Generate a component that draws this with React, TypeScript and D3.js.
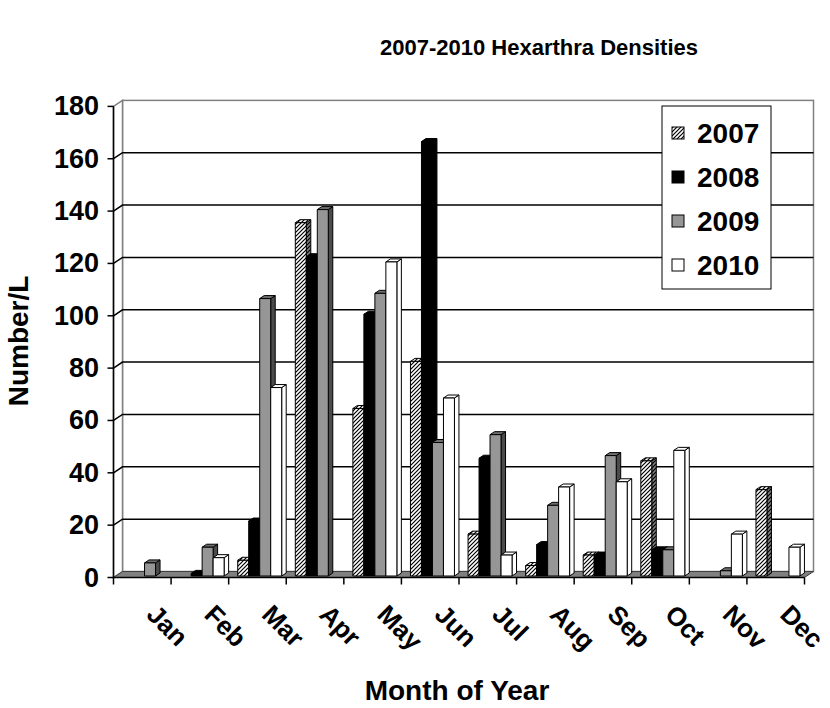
import React from "react";
import * as d3 from "d3";

const months = ["Jan", "Feb", "Mar", "Apr", "May", "Jun", "Jul", "Aug", "Sep", "Oct", "Nov", "Dec"];
const years = ["2007", "2008", "2009", "2010"];
const v2007 = [0, 0, 6, 135, 64, 82, 16, 4, 8, 44, 0, 33];
const v2008 = [0, 1, 21, 122, 100, 166, 45, 12, 8, 10, 0, 0];
const v2009 = [5, 11, 106, 140, 108, 51, 54, 27, 46, 10, 2, 0];
const v2010 = [0, 7, 72, 0, 120, 68, 8, 34, 36, 48, 16, 11];
const yTicks = [0, 20, 40, 60, 80, 100, 120, 140, 160, 180];
const seriesValues = [v2007, v2008, v2009, v2010];

const W = 830;
const H = 708;
const FONT = "Arial, 'Liberation Sans', Helvetica, sans-serif";

// oblique depth of the plot box
const DX = 9;
const DY = 6;

type Style = { front: string; side: string; top: string };
const styles: Style[] = [
  { front: "url(#hatch)", side: "url(#hatchDark)", top: "url(#hatch)" },
  { front: "#000000", side: "#000000", top: "#000000" },
  { front: "#969696", side: "#4b4b4b", top: "#6e6e6e" },
  { front: "#ffffff", side: "#ffffff", top: "#ffffff" },
];

export default function App() {
  const x0 = d3.scaleBand<string>().domain(months).range([113.5, 804.5]).padding(0);
  const step = x0.bandwidth();
  const x1 = d3.scaleBand<string>().domain(years).range([6.8, step - 6.8]).padding(0);
  const bw = x1.bandwidth();
  const y = d3.scaleLinear().domain([0, 180]).range([577.5, 106.4]);

  const left = x0.range()[0];
  const right = x0.range()[1];
  const y0 = y(0);
  const yTop = y(180);

  // bar depth: front face at 1/4 of box depth, back face at 3/4
  const fdx = DX * 0.25, fdy = DY * 0.25;
  const bdx = DX * 0.75, bdy = DY * 0.75;
  const ddx = bdx - fdx, ddy = bdy - fdy;

  const bars: React.ReactNode[] = [];
  months.forEach((m, mi) => {
    years.forEach((yr, si) => {
      const v = seriesValues[si][mi];
      if (!v) return;
      const bx = (x0(m) as number) + (x1(yr) as number) + fdx;
      const by = y(v) - fdy;
      const bb = y0 - fdy;
      const st = styles[si];
      const sidePts = `${bx + bw},${bb} ${bx + bw + ddx},${bb - ddy} ${bx + bw + ddx},${by - ddy} ${bx + bw},${by}`;
      const topPts = `${bx},${by} ${bx + ddx},${by - ddy} ${bx + bw + ddx},${by - ddy} ${bx + bw},${by}`;
      bars.push(
        <g key={`${m}-${yr}`} stroke="#000" strokeWidth={1} strokeLinejoin="round">
          <polygon points={sidePts} fill={st.side} />
          <polygon points={topPts} fill={st.top} />
          <rect x={bx} y={by} width={bw} height={bb - by} fill={st.front} />
        </g>
      );
    });
  });

  return (
    <svg
      width={W}
      height={H}
      style={{ position: "absolute", left: 0, top: 0, background: "#fff" }}
      fontFamily={FONT}
    >
      <defs>
        <pattern id="hatch" patternUnits="userSpaceOnUse" width={4} height={4}>
          <rect width={4} height={4} fill="#fff" />
          <path d="M-1,1 l2,-2 M0,4 l4,-4 M3,5 l2,-2" stroke="#000" strokeWidth={1.2} />
        </pattern>
        <pattern id="hatchDark" patternUnits="userSpaceOnUse" width={4} height={4}>
          <rect width={4} height={4} fill="#808080" />
          <path d="M-1,1 l2,-2 M0,4 l4,-4 M3,5 l2,-2" stroke="#000" strokeWidth={1.2} />
        </pattern>
      </defs>

      <rect x={0} y={0} width={W} height={H} fill="#fff" />

      {/* title */}
      <text x={539} y={55} textAnchor="middle" fontSize={22} fontWeight="bold">
        2007-2010 Hexarthra Densities
      </text>

      {/* back wall */}
      <rect x={left + DX} y={yTop - DY} width={right - left} height={y0 - yTop} fill="#fff" stroke="#808080" strokeWidth={1.5} />
      {/* side wall */}
      <polygon
        points={`${left},${y0} ${left + DX},${y0 - DY} ${left + DX},${yTop - DY} ${left},${yTop}`}
        fill="#fff"
        stroke="#808080"
        strokeWidth={1.5}
      />

      {/* gridlines */}
      {yTicks.filter((t) => t > 0 && t < 180).map((t) => (
        <polyline
          key={t}
          points={`${left},${y(t)} ${left + DX},${y(t) - DY} ${right + DX},${y(t) - DY}`}
          fill="none"
          stroke="#000"
          strokeWidth={1.5}
        />
      ))}

      {/* floor */}
      <polygon
        points={`${left},${y0} ${right},${y0} ${right + DX},${y0 - DY} ${left + DX},${y0 - DY}`}
        fill="#808080"
        stroke="#404040"
        strokeWidth={1}
      />

      {bars}

      {/* value axis */}
      <line x1={left} x2={left} y1={y0} y2={yTop} stroke="#000" strokeWidth={1.5} />
      {yTicks.map((t) => (
        <g key={t}>
          <line x1={left - 6} x2={left} y1={y(t)} y2={y(t)} stroke="#000" strokeWidth={1.5} />
          <text x={99} y={y(t)} textAnchor="end" dominantBaseline="central" fontSize={27} fontWeight="bold">
            {t}
          </text>
        </g>
      ))}

      {/* category axis */}
      <line x1={left} x2={right} y1={y0} y2={y0} stroke="#000" strokeWidth={1.5} />
      {d3.range(months.length + 1).map((i) => {
        const tx = left + i * step;
        return <line key={i} x1={tx} x2={tx} y1={y0} y2={y0 + 7} stroke="#000" strokeWidth={1.5} />;
      })}
      {months.map((m) => {
        const cx = (x0(m) as number) + step / 2 + 3;
        const cy = 616;
        return (
          <text key={m} x={cx} y={cy} transform={`rotate(45 ${cx} ${cy})`} fontSize={26} fontWeight="bold">
            {m}
          </text>
        );
      })}

      {/* axis titles */}
      <text
        x={28}
        y={341}
        transform="rotate(-90 28 341)"
        textAnchor="middle"
        fontSize={28}
        fontWeight="bold"
      >
        Number/L
      </text>
      <text x={457} y={700} textAnchor="middle" fontSize={28} fontWeight="bold">
        Month of Year
      </text>

      {/* legend */}
      <rect x={662} y={106} width={109} height={183} fill="#fff" stroke="#000" strokeWidth={1} />
      {years.map((yr, i) => {
        const cy = 133 + i * 44;
        return (
          <g key={yr}>
            <rect x={672} y={cy - 6} width={12} height={12} fill={styles[i].front} stroke="#000" strokeWidth={1} />
            <text x={697} y={cy} dominantBaseline="central" fontSize={28} fontWeight="bold">
              {yr}
            </text>
          </g>
        );
      })}
    </svg>
  );
}
